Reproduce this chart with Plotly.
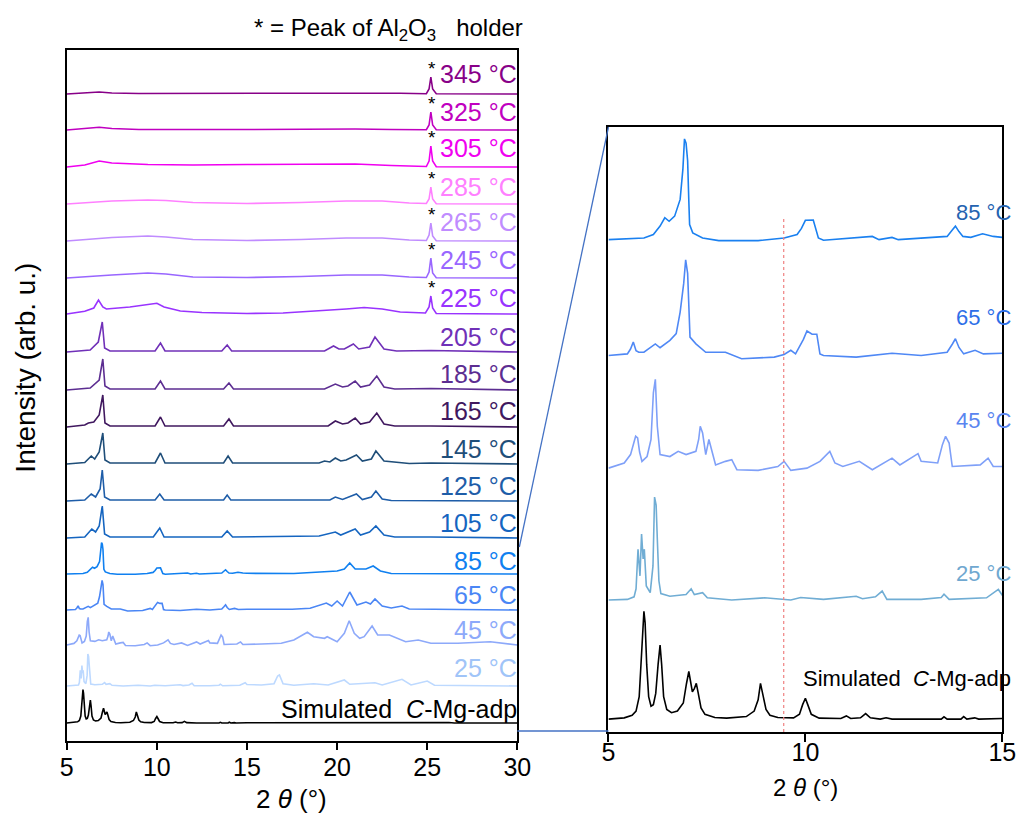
import plotly.graph_objects as go

# ---------------- data ----------------
# 2theta (deg), intensity above each pattern's own baseline (arb. u.)
labels = ["Simulated", "25 °C", "45 °C", "65 °C", "85 °C", "105 °C", "125 °C", "145 °C",
          "165 °C", "185 °C", "205 °C", "225 °C", "245 °C", "265 °C", "285 °C", "305 °C",
          "325 °C", "345 °C"]
offsets = [18, 55, 96, 131, 167, 203, 240, 277, 314, 351, 389, 427, 463, 500, 537, 574, 611, 647]
colors_left = ["#000000", "#BDD9FF", "#8DA9FA", "#4A86F5", "#1080F0", "#1565C0", "#1E5DA8",
               "#1F4E79", "#40185F", "#5C2D91", "#7030B8", "#9933FF", "#9966FF", "#C08CFF",
               "#FF80FF", "#F000F0", "#C000C0", "#880088"]
label_colors_left = ["#000000", "#A0C4F8", "#8DA9FA", "#4A86F5", "#1080F0", "#1565C0", "#1E5DA8",
                     "#1F4E79", "#40185F", "#5C2D91", "#7030B8", "#9933FF", "#9966FF", "#C08CFF",
                     "#FF80FF", "#F000F0", "#C000C0", "#880088"]
label_rise_left = [14, 18, 15, 15, 13, 15, 15, 15, 16, 16, 15, 16, 18, 19, 17, 19, 18, 20]

pts_sim = [(5.0, 0), (5.4, 0.4), (5.6, 1.2), (5.7, 2.5), (5.78, 7), (5.83, 18), (5.87, 30),
           (5.9, 33.5), (5.93, 30), (5.97, 17), (6.02, 7), (6.08, 4), (6.14, 4.5), (6.2, 8),
           (6.26, 17), (6.31, 23), (6.35, 17), (6.4, 7), (6.48, 3), (6.6, 2), (6.75, 2.5),
           (6.9, 5), (6.98, 11), (7.04, 14.8), (7.08, 12), (7.13, 8.5), (7.18, 9.5), (7.23, 11.1),
           (7.28, 8), (7.35, 3.5), (7.45, 1.5), (7.7, 0.5), (8.0, 0.3), (8.5, 0.8), (8.7, 2.5),
           (8.8, 6), (8.86, 11.1), (8.92, 8), (9.0, 3), (9.1, 1.2), (9.3, 0.5), (9.7, 0.4),
           (9.85, 1.5), (9.93, 4.5), (10.0, 6.5), (10.06, 4.5), (10.15, 1.5), (10.35, 0.3),
           (10.9, 0.2), (11.04, 1.0), (11.15, 0.2), (11.4, 0.4), (11.53, 1.7), (11.65, 0.4),
           (11.9, 0), (12.05, 0.4), (12.2, 0), (13.45, 0), (13.52, 0.7), (13.6, 0), (13.95, 0),
           (14.02, 0.8), (14.1, 0), (14.3, 0.4), (14.4, 0), (15.0, 0.2), (19.3, 0.3), (19.9, 0.6),
           (20.3, 0), (26.2, 0.5), (26.5, 0), (30.0, 0)]
pts_25 = [(5.0, 0), (5.48, 0.2), (5.65, 1.0), (5.7, 3.5), (5.75, 15.8), (5.8, 7.5), (5.84, 20.5),
          (5.88, 12.8), (5.91, 15.8), (5.96, 4.4), (6.06, 2.3), (6.13, 10.6), (6.17, 32),
          (6.21, 29.5), (6.24, 19), (6.28, 6), (6.33, 2.0), (6.56, 1.2), (6.97, 1.7), (7.1, 3.5),
          (7.18, 1.7), (7.39, 2.3), (7.51, 0.7), (8.13, 0), (8.96, 0.7), (9.63, 0), (9.88, 0.8),
          (10.46, 0.2), (11.29, 1.2), (11.45, 0.4), (11.78, 1.0), (11.95, 2.8), (12.07, 0.2),
          (12.94, 0.2), (13.45, 0.8), (13.52, 1.8), (13.65, 0.2), (14.6, 0.7), (14.9, 3.3),
          (15.0, 1.5), (15.8, 1.0), (16.5, 2.3), (16.7, 10), (16.8, 11), (17.0, 2.3), (17.6, 0.7),
          (18.7, 2.3), (19.5, 1), (20.4, 6), (20.7, 1.7), (22.1, 3.3), (22.5, 1), (23.6, 6.7),
          (24.1, 1), (25.0, 5), (25.4, 0.7), (30.0, 0)]
pts_45 = [(5.0, 0), (5.4, 1.6), (5.56, 4.2), (5.65, 8.5), (5.69, 9.9), (5.74, 9.4), (5.79, 5),
          (5.85, 2.1), (5.98, 3.6), (6.08, 8.9), (6.14, 23.4), (6.19, 27.6), (6.24, 13),
          (6.31, 4.2), (6.56, 3.6), (6.77, 5.2), (6.97, 4.2), (7.22, 5.2), (7.29, 8.9), (7.33, 13),
          (7.39, 10.9), (7.47, 4.2), (7.55, 8.9), (7.64, 4.7), (7.72, 1), (7.97, 2.1), (8.13, 2.6),
          (8.26, -0.5), (8.8, -0.7), (9.3, 0.5), (9.46, 2.1), (9.63, -0.7), (10.04, 0),
          (10.37, 2.1), (10.55, 4.5), (10.62, 5.2), (10.75, 1.6), (10.95, 0.5), (11.37, 2.1),
          (11.7, -0.5), (12.2, 3.1), (12.4, 1), (12.86, 4.5), (12.94, 2.1), (13.36, 1.6),
          (13.48, 7.3), (13.56, 9.9), (13.65, 7.8), (13.73, 0.5), (14.44, 1), (14.64, 3.1),
          (14.77, 0.5), (15.0, 0.5), (15.8, 1), (16.9, 1.7), (17.6, 5), (18.35, 12.7), (18.7, 8.3),
          (19.3, 6.7), (19.45, 8.3), (20.0, 3.3), (20.4, 11.7), (20.67, 24.3), (20.95, 11.7),
          (21.25, 6.7), (21.5, 8.3), (21.94, 19), (22.25, 10), (22.9, 10), (23.3, 6.7), (23.8, 3.3),
          (24.5, 5), (25.2, 1.7), (26.7, 1.7), (28.5, 3.3), (30.0, 0)]
pts_65 = [(5.0, 0), (5.48, 0.5), (5.56, 2), (5.63, 4.2), (5.7, 1.5), (5.77, 1), (5.9, 1),
          (6.19, 3.6), (6.31, 2.4), (6.56, 4.7), (6.72, 6.8), (6.82, 13.5), (6.91, 22.4),
          (6.96, 29.7), (7.01, 25.5), (7.04, 12), (7.07, 5.7), (7.22, 3.6), (7.47, 1), (7.97, 1),
          (8.38, -1), (9.21, -0.5), (9.46, 0.3), (9.63, 1.6), (9.75, 0.5), (9.95, 5), (10.04, 7.6),
          (10.17, 6.6), (10.29, 6.6), (10.37, 0.5), (10.46, 0), (11.29, -0.5), (12.2, 0.7),
          (12.94, 0), (13.6, 1), (13.73, 3.5), (13.81, 5.2), (13.9, 2.5), (14.02, 0.5),
          (14.31, 1.6), (14.52, 0.5), (15.0, 0.7), (17.5, 0.7), (18.5, 1.7), (19.4, 7), (19.7, 4),
          (20.0, 9), (20.3, 4), (20.7, 18), (21.1, 5), (21.6, 8), (21.85, 6), (22.1, 11), (22.5, 4),
          (23.0, 2), (23.6, 4), (24.0, 1), (30.0, 0)]
pts_85 = [(5.0, 0), (5.9, 0.5), (6.14, 1.6), (6.31, 4.2), (6.43, 6.8), (6.54, 5.7), (6.68, 7.3),
          (6.82, 12.5), (6.89, 22), (6.93, 31.3), (6.97, 30), (7.01, 24.5), (7.04, 12), (7.06, 4.7),
          (7.14, 2.1), (7.39, 0.5), (7.8, -0.3), (8.8, -0.3), (9.46, 0.5), (9.79, 1.6), (9.9, 3.5),
          (10.0, 6.0), (10.2, 6.1), (10.27, 3), (10.33, 0.5), (10.46, -0.2), (11.7, 1.0),
          (11.87, 0), (12.2, 0.7), (12.36, 0), (13.6, 1.0), (13.73, 3), (13.81, 4.2), (13.9, 2.5),
          (14.0, 1.0), (14.2, 0.7), (14.5, 1.8), (14.77, 1.0), (15.0, 0.7), (17.6, 0.5),
          (19.4, 2.3), (20.0, 3), (20.4, 5), (20.7, 11), (21.0, 5), (21.6, 5), (22.0, 8),
          (22.4, 3), (23.0, 0.5), (30.0, 0)]
pts_105 = [(5.0, 0), (6.0, 1), (6.39, 9), (6.6, 6), (6.8, 12), (6.97, 32), (7.1, 4), (7.4, 1),
           (9.8, 1), (10.16, 10), (10.4, 1), (13.6, 1), (13.9, 7), (14.2, 1), (19.0, 2), (19.9, 6),
           (20.2, 3), (21.0, 9), (21.3, 3), (21.8, 6), (22.15, 12), (22.6, 3), (23.2, 1), (25.2, 1),
           (30.0, 0)]
pts_125 = [(5.0, 0), (6.0, 1), (6.36, 7), (6.6, 4), (6.85, 12), (6.97, 31), (7.1, 4), (7.4, 1),
           (9.9, 1), (10.16, 7), (10.4, 1), (13.7, 1), (13.9, 6), (14.1, 1), (19.6, 1), (19.9, 4),
           (20.3, 1.5), (21.07, 7), (21.4, 1.5), (21.9, 4), (22.15, 10), (22.5, 2), (23.0, 0.5),
           (30.0, 0)]
pts_145 = [(5.0, 0), (6.0, 1.5), (6.36, 8), (6.55, 5), (6.8, 12), (7.0, 31), (7.12, 4), (7.4, 1),
           (9.9, 1), (10.2, 11), (10.45, 1), (13.7, 1), (13.95, 8), (14.2, 1), (19.0, 1), (19.3, 3),
           (19.6, 2), (19.9, 6), (20.2, 3), (20.5, 4), (21.07, 9), (21.4, 3), (21.9, 5), (22.15, 13),
           (22.6, 3), (23.4, 2), (24.0, 0.5), (25.2, 1), (30.0, 0)]
pts_165 = [(5.0, 0), (6.0, 2), (6.2, 4), (6.5, 5), (6.8, 12), (7.0, 32), (7.12, 4), (7.4, 1),
           (9.9, 1), (10.2, 10), (10.45, 1), (13.7, 1), (14.0, 8), (14.25, 1), (19.5, 1), (19.9, 6),
           (20.3, 3), (20.6, 4), (21.0, 9), (21.3, 3), (21.8, 5), (22.2, 14), (22.6, 3), (23.2, 1),
           (25.2, 1), (30.0, 0)]
pts_185 = [(5.0, 0), (6.3, 2), (6.8, 10), (7.0, 31), (7.12, 4), (7.4, 1), (9.9, 1), (10.2, 9),
           (10.45, 1), (13.7, 1), (14.0, 7), (14.25, 1), (19.3, 1), (19.9, 6), (20.3, 3), (20.6, 4),
           (21.0, 9), (21.3, 3), (21.8, 5), (22.2, 14), (22.6, 3), (23.2, 1), (25.2, 1.5), (30.0, 0)]
pts_205 = [(5.0, 0), (6.3, 2), (6.75, 10), (6.97, 30), (7.1, 4), (7.4, 1), (9.9, 1), (10.2, 9),
           (10.45, 1), (13.6, 1), (13.9, 7), (14.15, 1), (15.5, 1), (19.3, 1), (19.8, 6), (20.1, 3),
           (20.4, 3), (20.9, 8), (21.2, 3), (21.8, 5), (22.1, 15), (22.6, 3), (23.3, 1), (25.2, 1.5),
           (30.0, 0)]
pts_225 = [(5.0, 0), (6.0, 2.7), (6.5, 6), (6.76, 14), (7.0, 7), (7.2, 5), (8.5, 7), (9.5, 9),
           (10.0, 10.7), (10.4, 7), (11.3, 3), (12.5, 1.5), (15.0, 0.5), (17.0, 1), (19.0, 3),
           (20.5, 5), (21.5, 6.5), (22.5, 5), (23.5, 2), (24.9, 1), (25.1, 7), (25.2, 18), (25.3, 6),
           (25.5, 0.5), (30.0, 0)]
pts_245 = [(5.0, 0), (6.5, 2), (7.5, 3), (9.5, 5), (10.5, 4), (12.0, 1), (15.0, 0.5), (18.0, 1.5),
           (20.5, 3), (22.5, 3), (24.0, 1), (24.95, 0.5), (25.1, 6), (25.2, 20), (25.3, 5),
           (25.5, 0.3), (30.0, 0)]
pts_265 = [(5.0, 0), (6.5, 2.5), (7.5, 3.5), (9.5, 5), (10.5, 4), (12.0, 1.5), (15.0, 0.5),
           (18.0, 1.5), (20.5, 3), (22.5, 3), (24.0, 1), (24.95, 0.5), (25.1, 6), (25.2, 18),
           (25.3, 5), (25.5, 0.3), (30.0, 0)]
pts_285 = [(5.0, 0), (6.5, 2), (7.5, 3), (9.5, 4), (10.5, 3.5), (12.0, 1.5), (15.0, 0.5),
           (18.0, 1.5), (20.5, 3), (22.5, 3), (24.0, 1), (24.95, 0.5), (25.1, 5), (25.2, 17),
           (25.3, 5), (25.5, 0.3), (30.0, 0)]
pts_305 = [(5.0, 0), (6.0, 2), (6.8, 6), (7.5, 4), (9.5, 2.5), (12.0, 2), (15.0, 2.5), (18.0, 3),
           (21.0, 3), (23.0, 1.5), (24.95, 0.5), (25.1, 6), (25.2, 21), (25.3, 6), (25.5, 0.3),
           (30.0, 0)]
pts_325 = [(5.0, 0), (6.2, 1.5), (6.8, 2.7), (7.5, 1.5), (9.0, 0.5), (15.0, 0.5), (18.0, 1),
           (21.0, 1), (23.0, 0.5), (24.95, 0.3), (25.1, 5), (25.2, 18), (25.3, 5), (25.5, 0.2),
           (30.0, 0)]
pts_345 = [(5.0, 0), (6.2, 1), (6.8, 2), (7.5, 1), (9.0, 0.5), (15.8, 0.8), (20.0, 1), (23.5, 0.8),
           (24.95, 0.3), (25.1, 5), (25.2, 17), (25.3, 5), (25.5, 0.2), (30.0, 0)]

patterns = [pts_sim, pts_25, pts_45, pts_65, pts_85, pts_105, pts_125, pts_145, pts_165, pts_185,
            pts_205, pts_225, pts_245, pts_265, pts_285, pts_305, pts_325, pts_345]

star_labels = ["225 °C", "245 °C", "265 °C", "285 °C", "305 °C", "325 °C", "345 °C"]
star_x = 25.2

# zoomed panel (5-15 deg)
zoom_idx = [0, 1, 2, 3, 4]
colors_right = ["#000000", "#70ADD4", "#7FA0F8", "#4F88F5", "#1A80F0"]
label_colors_right = ["#000000", "#70A8D0", "#5A85F0", "#2E6FE8", "#2563B0"]
label_rise_right = [12.7, 8.4, 14.9, 11.8, 8.4]
dotted_x = 9.45

FONT = "Arial, Liberation Sans, sans-serif"

fig = go.Figure()

for i, pts in enumerate(patterns):
    fig.add_trace(go.Scatter(
        x=[p[0] for p in pts], y=[offsets[i] + p[1] for p in pts],
        mode="lines", line=dict(color=colors_left[i], width=1.6),
        xaxis="x", yaxis="y", showlegend=False, hoverinfo="skip"))

for k, i in enumerate(zoom_idx):
    pts = patterns[i]
    fig.add_trace(go.Scatter(
        x=[p[0] for p in pts], y=[offsets[i] + p[1] for p in pts],
        mode="lines", line=dict(color=colors_right[k], width=1.6),
        xaxis="x2", yaxis="y2", showlegend=False, hoverinfo="skip"))

annotations = []
# left labels
for i, lab in enumerate(labels):
    text = "Simulated\u00a0 <i>C</i>-Mg-adp" if i == 0 else lab
    annotations.append(dict(
        x=30, y=offsets[i] + label_rise_left[i], xref="x", yref="y", text=text, showarrow=False,
        xanchor="right", yanchor="middle", xshift=2,
        font=dict(family=FONT, size=25, color=label_colors_left[i])))
# stars
for lab in star_labels:
    i = labels.index(lab)
    top = max(p[1] for p in patterns[i])
    annotations.append(dict(
        x=star_x, y=offsets[i] + top + 9, xref="x", yref="y", text="*", showarrow=False,
        xanchor="center", yanchor="middle", xshift=1,
        font=dict(family=FONT, size=19, color="#000000")))
# right labels
for k, i in enumerate(zoom_idx):
    text = "Simulated\u00a0 <i>C</i>-Mg-adp" if i == 0 else labels[i]
    annotations.append(dict(
        x=15, y=offsets[i] + label_rise_right[k], xref="x2", yref="y2", text=text,
        showarrow=False, xanchor="right", yanchor="middle", xshift=11,
        font=dict(family=FONT, size=22, color=label_colors_right[k])))

# titles
annotations += [
    dict(x=0.378, y=0.964, xref="paper", yref="paper", showarrow=False,
         text="* = Peak of Al<sub>2</sub>O<sub>3</sub>\u00a0\u00a0 holder",
         font=dict(family=FONT, size=24, color="#000000"), xanchor="center", yanchor="middle"),
    dict(x=0.282, y=1 - 799 / 813, xref="paper", yref="paper", showarrow=False,
         text="2 <i>θ</i> (°)", font=dict(family=FONT, size=26, color="#000000"),
         xanchor="center", yanchor="middle"),
    dict(x=0.791, y=1 - 787 / 813, xref="paper", yref="paper", showarrow=False,
         text="2 <i>θ</i> (°)", font=dict(family=FONT, size=24, color="#000000"),
         xanchor="center", yanchor="middle"),
    dict(x=18 / 1030, y=1 - 368 / 813, xref="paper", yref="paper", showarrow=False,
         text="Intensity (arb. u.)", textangle=-90,
         font=dict(family=FONT, size=28, color="#000000"), xanchor="center", yanchor="middle"),
]

shapes = [
    dict(type="line", xref="x2", yref="y2", x0=dotted_x, x1=dotted_x, y0=14, y1=173.7,
         line=dict(color="#F08080", width=1.2, dash="dot")),
    dict(type="line", xref="paper", yref="paper", x0=523 / 1030, y0=1 - 547 / 813,
         x1=614 / 1030, y1=1 - 127 / 813, line=dict(color="#4472C4", width=1.3)),
    dict(type="line", xref="paper", yref="paper", x0=521 / 1030, y0=1 - 731 / 813,
         x1=614 / 1030, y1=1 - 731 / 813, line=dict(color="#4472C4", width=1.3)),
]

axis_common = dict(showline=True, mirror=True, linecolor="#000000", linewidth=1.6,
                   showgrid=False, zeroline=False)

fig.update_layout(
    width=1030, height=813, margin=dict(l=0, r=0, t=0, b=0),
    paper_bgcolor="white", plot_bgcolor="white",
    font=dict(family=FONT, color="#000000"),
    xaxis=dict(domain=[61 / 1030, 521 / 1030], range=[5, 30], tickvals=[5, 10, 15, 20, 25, 30],
               ticks="outside", ticklen=7, tickwidth=1.6, tickcolor="#000000",
               ticklabelstandoff=-4,
               tickfont=dict(family=FONT, size=25, color="#000000"), anchor="y", **axis_common),
    yaxis=dict(domain=[1 - 741 / 813, 1 - 50 / 813], range=[0, 691], showticklabels=False,
               ticks="", anchor="x", **axis_common),
    xaxis2=dict(domain=[614 / 1030, 1016 / 1030], range=[5, 15], tickvals=[5, 10, 15],
                ticks="outside", ticklen=8, tickwidth=1.6, tickcolor="#000000",
                ticklabelstandoff=-11,
                tickfont=dict(family=FONT, size=25, color="#000000"), anchor="y2", **axis_common),
    yaxis2=dict(domain=[1 - 732 / 813, 1 - 127 / 813], range=[14, 202], showticklabels=False,
                ticks="", anchor="x2", **axis_common),
    annotations=annotations, shapes=shapes,
)

fig.write_html("out.html")
